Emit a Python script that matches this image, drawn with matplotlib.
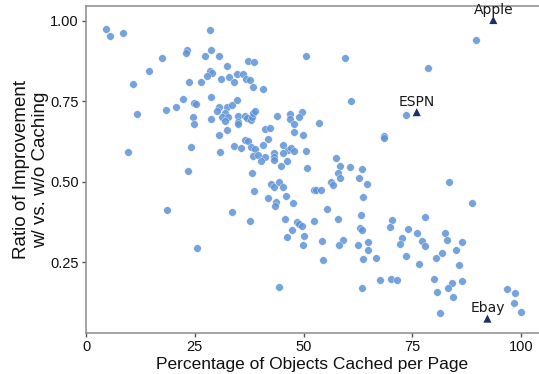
import matplotlib
matplotlib.use("Agg")
import matplotlib.pyplot as plt

# Percentage of objects cached per page (x) and ratio of improvement (y)
pct_cached = [
    4.60, 5.52, 8.51, 28.57, 23.15, 22.92, 28.67, 27.36, 30.51, 17.54,
    14.41, 28.51, 28.97, 27.82, 32.34, 32.87, 34.78, 30.97, 33.95, 23.61,
    26.37, 10.74, 28.67, 22.30, 24.90, 25.22, 20.62, 18.46, 11.79, 30.51,
    32.41, 33.63, 34.78, 30.05, 32.02, 31.20, 32.53, 35.01, 24.67, 28.67,
    24.90, 31.95, 35.01, 35.01, 30.64, 32.48, 24.07, 30.80, 34.02, 35.52,
    9.54, 23.45, 18.55, 33.56, 25.45, 50.57, 59.61, 37.31, 38.62, 36.09,
    36.78, 37.63, 38.32, 40.62, 60.85, 36.55, 36.94, 37.86, 38.09, 38.46,
    38.78, 43.91, 46.97, 46.97, 49.59, 48.97, 47.82, 53.63, 41.22, 42.37,
    47.75, 49.89, 41.77, 36.55, 37.17, 40.62, 37.86, 38.78, 45.22, 46.37,
    47.13, 47.89, 50.51, 43.15, 43.29, 43.15, 38.46, 39.47, 41.08, 40.23,
    45.36, 46.28, 44.83, 50.74, 68.51, 68.51, 57.54, 58.39, 60.62, 63.45,
    57.86, 58.46, 62.76, 56.25, 56.85, 64.60, 38.09, 42.46, 43.29, 44.30,
    45.29, 38.55, 52.34, 52.87, 54.02, 63.61, 46.05, 41.91, 43.75, 43.45,
    47.66, 55.40, 37.70, 45.75, 48.51, 48.97, 49.61, 52.48, 57.86, 63.15,
    62.87, 63.45, 70.41, 47.29, 46.28, 50.18, 49.95, 54.32, 59.01, 58.09,
    62.46, 64.76, 64.83, 63.68, 66.60, 54.41, 44.44, 63.38, 67.66, 70.00,
    71.43, 89.66, 78.62, 73.56, 83.38, 88.74, 77.86, 69.95, 74.02, 76.09,
    82.46, 72.57, 72.11, 77.17, 77.86, 82.99, 86.51, 73.63, 81.91, 80.53,
    85.13, 76.48, 85.68, 80.07, 84.07, 83.22, 86.51, 80.62, 84.44, 81.38,
    96.85, 98.55, 98.32, 100.07,
]
improvement = [
    0.975, 0.952, 0.963, 0.972, 0.909, 0.899, 0.910, 0.890, 0.891, 0.884,
    0.843, 0.844, 0.838, 0.828, 0.858, 0.825, 0.835, 0.819, 0.811, 0.810,
    0.810, 0.803, 0.764, 0.757, 0.745, 0.741, 0.733, 0.722, 0.711, 0.733,
    0.732, 0.739, 0.754, 0.720, 0.713, 0.702, 0.702, 0.705, 0.700, 0.696,
    0.678, 0.690, 0.686, 0.678, 0.644, 0.660, 0.609, 0.592, 0.610, 0.604,
    0.593, 0.532, 0.412, 0.407, 0.295, 0.891, 0.883, 0.876, 0.873, 0.835,
    0.819, 0.816, 0.793, 0.789, 0.750, 0.704, 0.699, 0.692, 0.702, 0.712,
    0.720, 0.704, 0.710, 0.695, 0.718, 0.702, 0.678, 0.683, 0.664, 0.667,
    0.654, 0.645, 0.634, 0.630, 0.627, 0.614, 0.609, 0.602, 0.615, 0.599,
    0.606, 0.595, 0.595, 0.590, 0.576, 0.568, 0.579, 0.584, 0.576, 0.564,
    0.589, 0.563, 0.548, 0.544, 0.642, 0.635, 0.574, 0.549, 0.547, 0.541,
    0.528, 0.512, 0.512, 0.500, 0.491, 0.494, 0.528, 0.494, 0.485, 0.499,
    0.485, 0.471, 0.473, 0.473, 0.473, 0.453, 0.455, 0.449, 0.437, 0.426,
    0.433, 0.416, 0.379, 0.384, 0.374, 0.369, 0.362, 0.377, 0.383, 0.397,
    0.357, 0.351, 0.381, 0.349, 0.328, 0.331, 0.305, 0.317, 0.320, 0.304,
    0.304, 0.313, 0.289, 0.261, 0.264, 0.258, 0.174, 0.169, 0.195, 0.198,
    0.195, 0.939, 0.852, 0.706, 0.500, 0.433, 0.391, 0.359, 0.352, 0.340,
    0.341, 0.324, 0.308, 0.317, 0.301, 0.318, 0.312, 0.269, 0.278, 0.262,
    0.287, 0.244, 0.241, 0.197, 0.186, 0.171, 0.192, 0.159, 0.141, 0.092,
    0.168, 0.156, 0.123, 0.095,
]

# Highlighted sites
site_names = ["Apple", "ESPN", "Ebay"]
site_pct = [93.6, 76.0, 92.25]
site_ratio = [1.002, 0.716, 0.075]

x_ticks = [0, 25, 50, 75, 100]
x_ticklabels = ["0", "25", "50", "75", "100"]
y_ticks = [0.25, 0.50, 0.75, 1.00]
y_ticklabels = ["0.25", "0.50", "0.75", "1.00"]

W, H = 539, 374
fig = plt.figure(figsize=(W / 100, H / 100), dpi=100)
ax = fig.add_axes([85.7 / W, 1 - 333 / H, (W - 85.7) / W, (333 - 6) / H])

ax.scatter(pct_cached, improvement, s=30, color="#5f93d6", alpha=0.85,
           edgecolors="white", linewidths=0.3, zorder=2)
ax.scatter(site_pct, site_ratio, s=34, marker="^", color="#1c2f5f",
           edgecolors="none", zorder=3)
for name, sx, sy in zip(site_names, site_pct, site_ratio):
    ax.annotate(name, (sx, sy), xytext=(0, 4.5), textcoords="offset points",
                ha="center", va="baseline", fontsize=10,
                family="DejaVu Sans", color="#1a1a1a", zorder=4)

ax.set_xlim(-0.07, 104.1)
ax.set_ylim(0.0304, 1.0456)
ax.set_xticks(x_ticks)
ax.set_xticklabels(x_ticklabels)
ax.set_yticks(y_ticks)
ax.set_yticklabels(y_ticklabels)

for side in ["left", "bottom", "top"]:
    ax.spines[side].set_color("#8c8c8c")
    ax.spines[side].set_linewidth(1.1)
ax.spines["right"].set_visible(False)
ax.tick_params(axis="both", colors="#555555", length=3, width=1,
               labelsize=10.5, labelcolor="#111111", pad=2)
for lbl in ax.get_xticklabels() + ax.get_yticklabels():
    lbl.set_family("Liberation Sans")

ax.set_xlabel("Percentage of Objects Cached per Page", fontsize=12.5,
              family="Liberation Sans", color="#111111", labelpad=2)
ax.set_ylabel("Ratio of Improvement\nw/ vs. w/o Caching", fontsize=13.5,
              family="Liberation Sans", color="#111111", labelpad=0.5,
              linespacing=1.2)

fig.savefig("out.png", dpi=100)
